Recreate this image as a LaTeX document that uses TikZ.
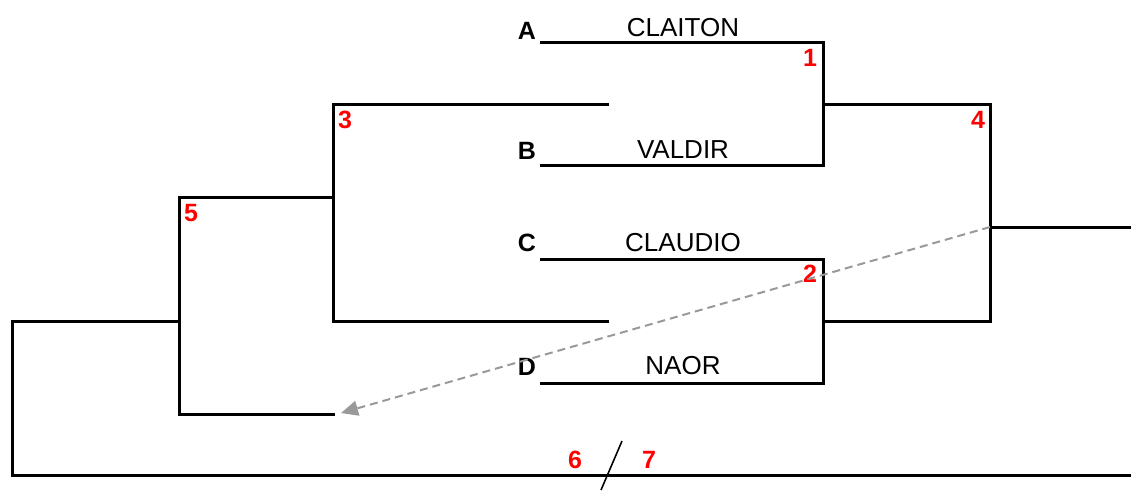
\documentclass[tikz,border=0pt]{standalone}
\usepackage{fontspec}
\setmainfont{Liberation Sans}
\usetikzlibrary{arrows.meta}
\begin{document}
\begin{tikzpicture}[x=1pt,y=-1pt,
  bline/.style={line width=3pt,line cap=rect,line join=miter},
  nm/.style={font=\fontsize{26}{26}\selectfont,inner sep=0pt,anchor=center},
  let/.style={font=\fontsize{25}{25}\selectfont\bfseries,inner sep=0pt,anchor=center},
  num/.style={font=\fontsize{25}{25}\selectfont\bfseries,text=red,inner sep=0pt,anchor=center}]
\useasboundingbox (0,0) rectangle (1131,491);
% coordinates
\coordinate (a0) at (541,42);  \coordinate (a1) at (823,42);
\coordinate (b0) at (541,165); \coordinate (b1) at (823,165);
\coordinate (c0) at (541,259); \coordinate (c1) at (823,259);
\coordinate (d0) at (541,383); \coordinate (d1) at (823,383);
\coordinate (m1) at (823,104); \coordinate (m2) at (823,321);
\coordinate (r1) at (990,104); \coordinate (r2) at (990,321);
\coordinate (rj) at (990,227); \coordinate (rend) at (1131,227);
\coordinate (l1) at (607,104); \coordinate (l2) at (607,321);
\coordinate (k1) at (333,104); \coordinate (k2) at (333,321);
\coordinate (kj) at (333,197);
\coordinate (f1) at (179,197); \coordinate (f2) at (179,414);
\coordinate (fe) at (333,414); \coordinate (fj) at (179,321);
\coordinate (g1) at (12,321); \coordinate (g2) at (12,475);
\coordinate (gend) at (1131,475);
\coordinate (s0) at (622,441); \coordinate (s1) at (601,490);
\coordinate (arr) at (341,413);
% texts
\node[let] (A) at (527,31) {A};
\node[let] (B) at (527,151) {B};
\node[let] (C) at (527,243) {C};
\node[let] (D) at (527,367) {D};
\node[nm] (claiton) at (683,28) {CLAITON};
\node[nm] (valdir) at (683,150) {VALDIR};
\node[nm] (claudio) at (683,243) {CLAUDIO};
\node[nm] (naor) at (683,366) {NAOR};
\node[num] (n1) at (810,58) {1};
\node[num] (n2) at (810,274) {2};
\node[num] (n3) at (345,120) {3};
\node[num] (n4) at (978,120) {4};
\node[num] (n5) at (191,213) {5};
\node[num] (n6) at (575,460) {6};
\node[num] (n7) at (649,460) {7};
% lines
\draw[bline] (a0) -- (a1) -- (b1) -- (b0);
\draw[bline] (c0) -- (c1) -- (d1) -- (d0);
\draw[bline] (m1) -- (r1) -- (r2) -- (m2);
\draw[bline] (rj) -- (rend);
\draw[bline] (l1) -- (k1) -- (k2) -- (l2);
\draw[bline] (kj) -- (f1) -- (f2) -- (fe);
\draw[bline] (fj) -- (g1) -- (g2) -- (gend);
\draw[line width=1.6pt] (s0) -- (s1);
\draw[gray!80,line width=2pt,dash pattern=on 8pt off 5pt,-{Triangle[length=17pt,width=15pt]}] (rj) -- (arr);
\end{tikzpicture}
\end{document}
